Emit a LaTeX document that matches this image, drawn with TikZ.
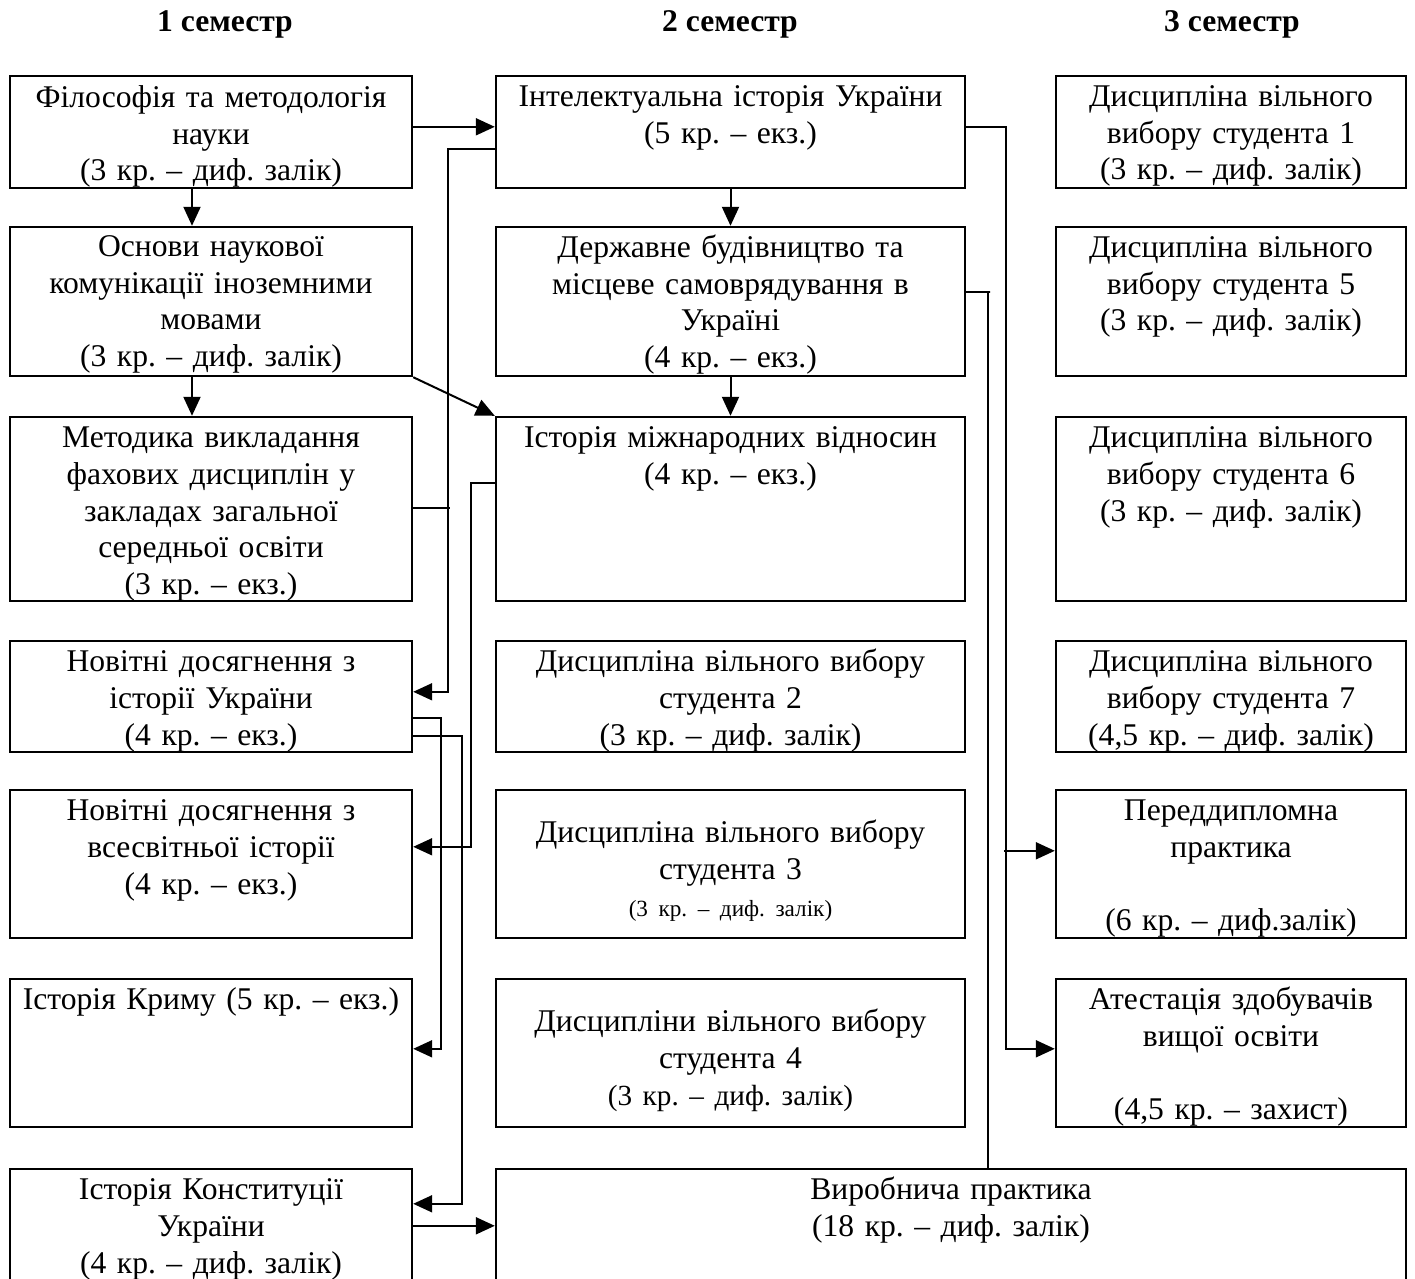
\documentclass[tikz,border=0pt]{standalone}
\usepackage{fontspec}
\setmainfont{Liberation Serif}
\usetikzlibrary{fit,arrows.meta}
\frenchspacing
\begin{document}
\begin{tikzpicture}[x=0.5pt,y=-0.5pt,
  boxst/.style={draw, line width=1.2pt, inner sep=0pt},
  txt/.style={anchor=base, inner sep=0pt, text width=300pt, align=center,
    font=\fontsize{15.8}{18.3}\selectfont\frenchspacing},
  head/.style={anchor=base, inner sep=0pt, font=\fontsize{15.8}{18.3}\selectfont\bfseries},
  arr/.style={line width=1pt, -{Triangle[length=9.5pt,width=8.5pt]}},
  ln/.style={line width=1pt}]
\fill[white] (0,0) rectangle (1415,1279);
\useasboundingbox (0,0) rectangle (1415,1279);

% headers
\node[head] (h1) at (225,32) {1 семестр};
\node[head] (h2) at (730,32) {2 семестр};
\node[head] (h3) at (1232,32) {3 семестр};

% column 1
\node[boxst, fit={(10,76) (412,188)}] (B1) {};
\node[boxst, fit={(10,227) (412,376)}] (B2) {};
\node[boxst, fit={(10,417) (412,601)}] (B3) {};
\node[boxst, fit={(10,641) (412,752)}] (B4) {};
\node[boxst, fit={(10,790) (412,938)}] (B5) {};
\node[boxst, fit={(10,979) (412,1127)}] (B6) {};
\node[boxst, fit={(10,1169) (412,1300)}] (B7) {};
% column 2
\node[boxst, fit={(496,76) (965,188)}] (M1) {};
\node[boxst, fit={(496,227) (965,376)}] (M2) {};
\node[boxst, fit={(496,417) (965,601)}] (M3) {};
\node[boxst, fit={(496,641) (965,752)}] (M4) {};
\node[boxst, fit={(496,790) (965,938)}] (M5) {};
\node[boxst, fit={(496,979) (965,1127)}] (M6) {};
\node[boxst, fit={(496,1169) (1406,1300)}] (M7) {};
% column 3
\node[boxst, fit={(1056,76) (1406,188)}] (R1) {};
\node[boxst, fit={(1056,227) (1406,376)}] (R2) {};
\node[boxst, fit={(1056,417) (1406,601)}] (R3) {};
\node[boxst, fit={(1056,641) (1406,752)}] (R4) {};
\node[boxst, fit={(1056,790) (1406,938)}] (R5) {};
\node[boxst, fit={(1056,979) (1406,1127)}] (R6) {};

% texts
\node[txt] (B1t) at ([shift={(0,33)}]B1.north) {Філософія та методологія\\ науки\\ (3 кр. – диф. залік)};
\node[txt] (B2t) at ([shift={(0,31)}]B2.north) {Основи наукової\\ комунікації іноземними\\ мовами\\ (3 кр. – диф. залік)};
\node[txt] (B3t) at ([shift={(0,32)}]B3.north) {Методика викладання\\ фахових дисциплін у\\ закладах загальної\\ середньої освіти\\ (3 кр. – екз.)};
\node[txt] (B4t) at ([shift={(0,32)}]B4.north) {Новітні досягнення з\\ історії України\\ (4 кр. – екз.)};
\node[txt] (B5t) at ([shift={(0,32)}]B5.north) {Новітні досягнення з\\ всесвітньої історії\\ (4 кр. – екз.)};
\node[txt] (B6t) at ([shift={(0,32)}]B6.north) {Історія Криму (5 кр. – екз.)};
\node[txt] (B7t) at ([shift={(0,32)}]B7.north) {Історія Конституції\\ України\\ (4 кр. – диф. залік)};

\node[txt] (M1t) at ([shift={(0,32)}]M1.north) {Інтелектуальна історія України\\ (5 кр. – екз.)};
\node[txt] (M2t) at ([shift={(0,32)}]M2.north) {Державне будівництво та\\ місцеве самоврядування в\\ Україні\\ (4 кр. – екз.)};
\node[txt] (M3t) at ([shift={(0,32)}]M3.north) {Історія міжнародних відносин\\ (4 кр. – екз.)};
\node[txt] (M4t) at ([shift={(0,32)}]M4.north) {Дисципліна вільного вибору\\ студента 2\\ (3 кр. – диф. залік)};
\node[txt] (M5t) at ([shift={(0,54)}]M5.north) {Дисципліна вільного вибору\\ студента 3\\ {\fontsize{11.6}{18.3}\selectfont (3 кр. – диф. залік)}};
\node[txt] (M6t) at ([shift={(0,54)}]M6.north) {Дисципліни вільного вибору\\ студента 4\\ {\fontsize{14.6}{18.3}\selectfont (3 кр. – диф. залік)}};
\node[txt] (M7t) at ([shift={(0,32)}]M7.north) {Виробнича практика\\ (18 кр. – диф. залік)};

\node[txt] (R1t) at ([shift={(0,32)}]R1.north) {Дисципліна вільного\\ вибору студента 1\\ (3 кр. – диф. залік)};
\node[txt] (R2t) at ([shift={(0,32)}]R2.north) {Дисципліна вільного\\ вибору студента 5\\ (3 кр. – диф. залік)};
\node[txt] (R3t) at ([shift={(0,32)}]R3.north) {Дисципліна вільного\\ вибору студента 6\\ (3 кр. – диф. залік)};
\node[txt] (R4t) at ([shift={(0,32)}]R4.north) {Дисципліна вільного\\ вибору студента 7\\ (4,5 кр. – диф. залік)};
\node[txt] (R5t) at ([shift={(0,32)}]R5.north) {Переддипломна\\ практика\\ ~\\ (6 кр. – диф.залік)};
\node[txt] (R6t) at ([shift={(0,32)}]R6.north) {Атестація здобувачів\\ вищої освіти\\ ~\\ (4,5 кр. – захист)};

% connectors
\draw[arr] ([shift={(0,52)}]B1.north east) -- ([shift={(0,52)}]M1.north west);
\draw[arr] ([shift={(-19,0)}]B1.south) -- ([shift={(-19,0)}]B2.north);
\draw[arr] ([shift={(-19,0)}]B2.south) -- ([shift={(-19,0)}]B3.north);
\draw[arr] (B2.south east) -- (M3.north west);
\draw[arr] (M1.south) -- (M2.north);
\draw[arr] (M2.south) -- (M3.north);
\draw[arr] ([shift={(0,74)}]M1.north west) -- ++(-47,0) |- ([shift={(0,52)}]B4.north east);
\draw[ln] ([shift={(0,92)}]B3.north east) -- ++(37,0);
\draw[arr] ([shift={(0,67)}]M3.north west) -- ++(-24,0) |- ([shift={(0,58)}]B5.north east);
\draw[arr] ([shift={(0,78)}]B4.north east) -- ++(28,0) |- ([shift={(0,71)}]B6.north east);
\draw[arr] ([shift={(0,96)}]B4.north east) -- ++(49,0) |- ([shift={(0,36)}]B7.north east);
\draw[arr] ([shift={(0,58)}]B7.north east) -- ([shift={(0,58)}]M7.north west);
\draw[arr] ([shift={(0,52)}]M1.north east) -- ++(40,0) |- ([shift={(0,71)}]R6.north west);
\draw[arr] ([shift={(-51,62)}]R5.north west) -- ([shift={(0,62)}]R5.north west);
\draw[ln] ([shift={(0,66)}]M2.north east) -- ++(24,0) -| ([shift={(493,0)}]M7.north west);
\end{tikzpicture}
\end{document}
